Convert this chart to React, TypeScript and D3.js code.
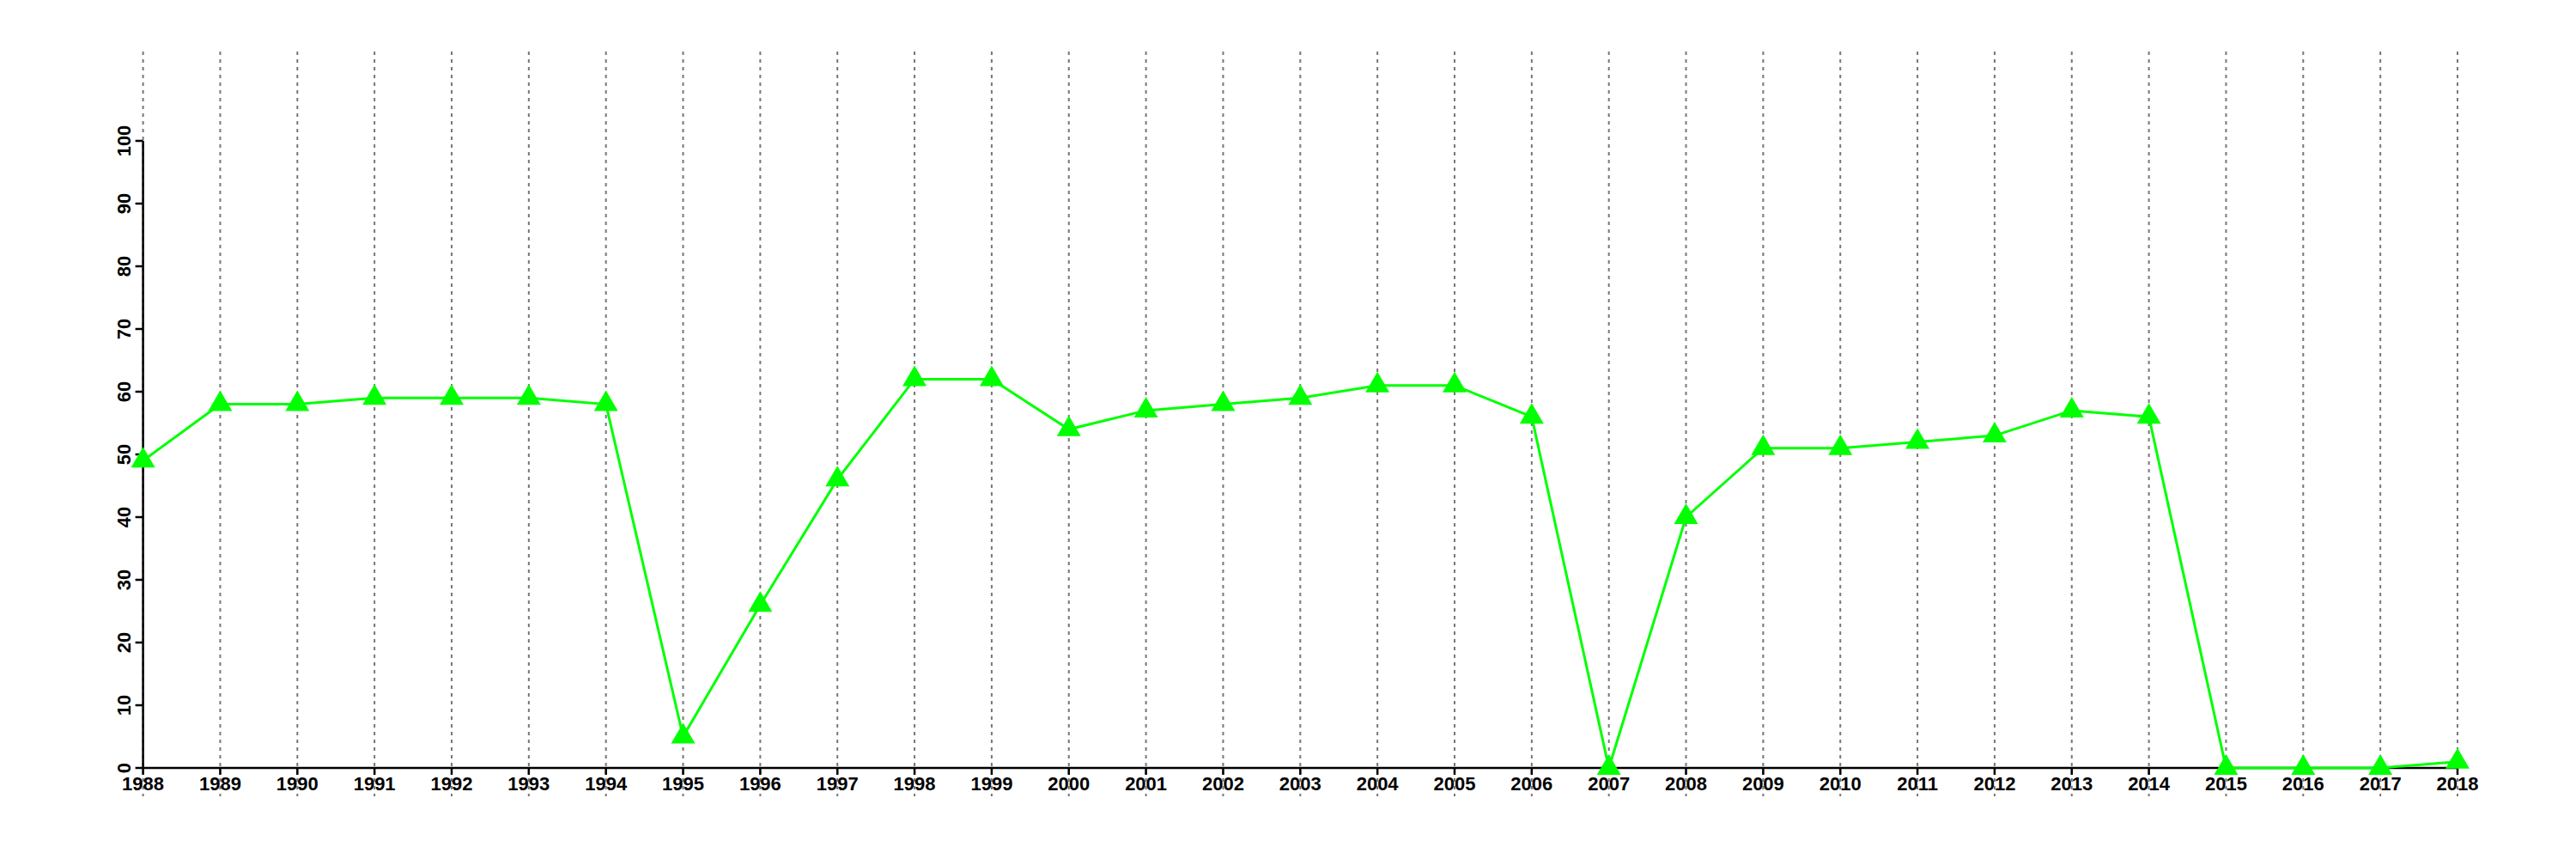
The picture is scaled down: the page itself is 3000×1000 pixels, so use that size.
import React from "react";
import * as d3 from "d3";

const years: number[] = [1988,1989,1990,1991,1992,1993,1994,1995,1996,1997,1998,1999,2000,2001,2002,2003,2004,2005,2006,2007,2008,2009,2010,2011,2012,2013,2014,2015,2016,2017,2018];
const values: number[] = [49,58,58,59,59,59,58,5,26,46,62,62,54,57,58,59,61,61,56,0,40,51,51,52,53,57,56,0,0,0,1];
const yTicks: number[] = [0,10,20,30,40,50,60,70,80,90,100];

export default function App() {
  const W = 3000, H = 1000;
  const x = d3.scaleLinear().domain([1988, 2018]).range([166.6, 2862]);
  const y = d3.scaleLinear().domain([0, 100]).range([894, 164]);
  const line = d3.line<number>().x((_, i) => x(years[i])).y((d) => y(d));
  const tri = (cx: number, cy: number) =>
    `M${cx},${cy - 16}L${cx + 14},${cy + 8}L${cx - 14},${cy + 8}Z`;
  const font = "'Liberation Sans', Arial, Helvetica, sans-serif";
  return (
    <svg width={W} height={H} style={{ position: "absolute", left: 0, top: 0, background: "#fff" }}>
      <rect x={0} y={0} width={W} height={H} fill="#fff" />
      {years.map((yr) => (
        <line key={"g" + yr} x1={x(yr)} x2={x(yr)} y1={60} y2={927} stroke="#777" strokeWidth={2} strokeDasharray="4 5" />
      ))}
      {/* axes */}
      <line x1={x(1988)} x2={x(1988)} y1={y(100)} y2={y(0)} stroke="#000" strokeWidth={2.5} />
      <line x1={x(1988)} x2={x(2018)} y1={y(0)} y2={y(0)} stroke="#000" strokeWidth={2.5} />
      {yTicks.map((t) => (
        <g key={"yt" + t}>
          <line x1={x(1988) - 9} x2={x(1988)} y1={y(t)} y2={y(t)} stroke="#000" strokeWidth={2.5} />
          <text
            transform={`translate(152,${y(t)}) rotate(-90)`}
            textAnchor="middle"
            fontFamily={font}
            fontWeight="bold"
            fontSize={22}
            fill="#000"
          >
            {t}
          </text>
        </g>
      ))}
      {years.map((yr) => (
        <g key={"xt" + yr}>
          <line x1={x(yr)} x2={x(yr)} y1={y(0)} y2={y(0) + 8} stroke="#000" strokeWidth={2.5} />
          <text x={x(yr)} y={920} textAnchor="middle" fontFamily={font} fontWeight="bold" fontSize={22} fill="#000">
            {yr}
          </text>
        </g>
      ))}
      <path d={line(values) || ""} fill="none" stroke="#00ff00" strokeWidth={3} />
      {values.map((v, i) => (
        <path key={"m" + i} d={tri(x(years[i]), y(v))} fill="#00ff00" />
      ))}
    </svg>
  );
}
